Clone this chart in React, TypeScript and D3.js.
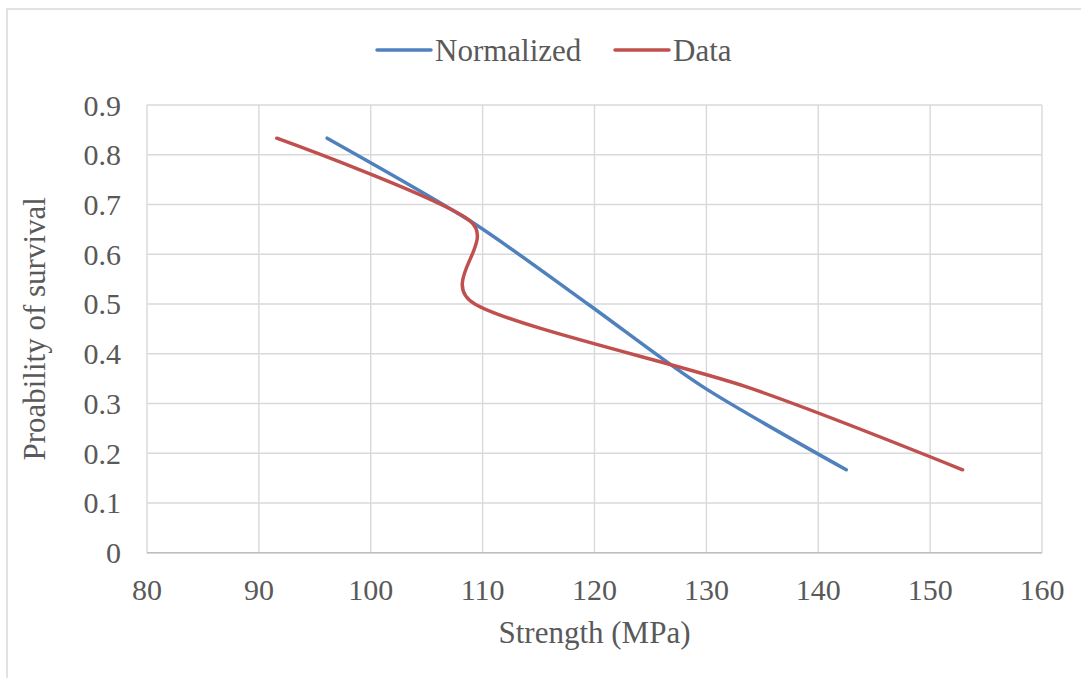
import { useEffect, useRef } from 'react';
import * as d3 from 'd3';

// probability levels shared by both series
const survival = [0.8333, 0.6667, 0.5, 0.3333, 0.1667];
const normalizedStrength = [96.1, 108.9, 119.4, 129.7, 142.5];
const dataStrength = [91.6, 108.9, 109.3, 133.6, 152.9];
const xTicks = [80, 90, 100, 110, 120, 130, 140, 150, 160];
const yTicks = [0, 0.1, 0.2, 0.3, 0.4, 0.5, 0.6, 0.7, 0.8, 0.9];

const seriesList = [
  { name: 'Normalized', color: '#4F81BD', xs: normalizedStrength },
  { name: 'Data', color: '#C0504D', xs: dataStrength },
];

const W = 1081;
const H = 678;
const FONT = '"Liberation Serif", "Times New Roman", serif';
const TEXT = '#595959';
const GRID = '#d9d9d9';

export default function App() {
  const svgRef = useRef<SVGSVGElement>(null);

  useEffect(() => {
    document.body.style.margin = '0';
    if (!svgRef.current) return;
    const svg = d3.select(svgRef.current);
    svg.selectAll('*').remove();

    const x = d3.scaleLinear().domain([80, 160]).range([147, 1042]);
    const y = d3.scaleLinear().domain([0, 0.9]).range([552.7, 105]);

    // chart border (runs off the page on the right and bottom)
    svg.append('rect')
      .attr('x', 7).attr('y', 9)
      .attr('width', W + 20).attr('height', H + 20)
      .attr('fill', 'white')
      .attr('stroke', GRID)
      .attr('stroke-width', 1.5);

    // gridlines
    svg.append('g')
      .selectAll('line.h')
      .data(yTicks)
      .enter()
      .append('line')
      .attr('x1', x(80)).attr('x2', x(160))
      .attr('y1', (d) => y(d)).attr('y2', (d) => y(d))
      .attr('stroke', GRID)
      .attr('stroke-width', 1.4);

    svg.append('g')
      .selectAll('line.v')
      .data(xTicks)
      .enter()
      .append('line')
      .attr('x1', (d) => x(d)).attr('x2', (d) => x(d))
      .attr('y1', y(0)).attr('y2', y(0.9))
      .attr('stroke', GRID)
      .attr('stroke-width', 1.4);

    // bottom axis line
    svg.append('line')
      .attr('x1', x(80)).attr('x2', x(160))
      .attr('y1', y(0)).attr('y2', y(0))
      .attr('stroke', '#bfbfbf')
      .attr('stroke-width', 1.4);

    // tick labels
    svg.append('g')
      .selectAll('text')
      .data(yTicks)
      .enter()
      .append('text')
      .attr('x', 121)
      .attr('y', (d) => y(d))
      .attr('dy', '0.35em')
      .attr('text-anchor', 'end')
      .style('font-family', FONT)
      .style('font-size', '30px')
      .style('fill', TEXT)
      .text((d) => (d === 0 ? '0' : d3.format('.1f')(d)));

    svg.append('g')
      .selectAll('text')
      .data(xTicks)
      .enter()
      .append('text')
      .attr('x', (d) => x(d))
      .attr('y', 600)
      .attr('text-anchor', 'middle')
      .style('font-family', FONT)
      .style('font-size', '30px')
      .style('fill', TEXT)
      .text((d) => String(d));

    // axis titles
    svg.append('text')
      .attr('x', (x(80) + x(160)) / 2)
      .attr('y', 643)
      .attr('text-anchor', 'middle')
      .style('font-family', FONT)
      .style('font-size', '31px')
      .style('fill', TEXT)
      .text('Strength (MPa)');

    svg.append('text')
      .attr('transform', `translate(45,${(y(0) + y(0.9)) / 2}) rotate(-90)`)
      .attr('text-anchor', 'middle')
      .style('font-family', FONT)
      .style('font-size', '31px')
      .style('fill', TEXT)
      .text('Proability of survival');

    // series lines, smoothed like Excel
    const line = d3.line<[number, number]>()
      .x((d) => x(d[0]))
      .y((d) => y(d[1]))
      .curve(d3.curveCardinal.tension(0.2));

    seriesList.forEach((s) => {
      const pts: [number, number][] = s.xs.map((v, i) => [v, survival[i]]);
      svg.append('path')
        .datum(pts)
        .attr('d', line)
        .attr('fill', 'none')
        .attr('stroke', s.color)
        .attr('stroke-width', 3.5)
        .attr('stroke-linecap', 'round')
        .attr('stroke-linejoin', 'round');
    });

    // legend
    const legendPos = [377, 615];
    seriesList.forEach((s, i) => {
      const lx = legendPos[i];
      svg.append('line')
        .attr('x1', lx).attr('x2', lx + 54)
        .attr('y1', 50).attr('y2', 50)
        .attr('stroke', s.color)
        .attr('stroke-width', 3.5)
        .attr('stroke-linecap', 'round');
      svg.append('text')
        .attr('x', lx + 58)
        .attr('y', 50)
        .attr('dy', '0.35em')
        .style('font-family', FONT)
        .style('font-size', '31px')
        .style('fill', TEXT)
        .text(s.name);
    });
  }, []);

  return (
    <svg
      ref={svgRef}
      width={W}
      height={H}
      style={{ position: 'absolute', left: 0, top: 0, background: 'white' }}
    />
  );
}
